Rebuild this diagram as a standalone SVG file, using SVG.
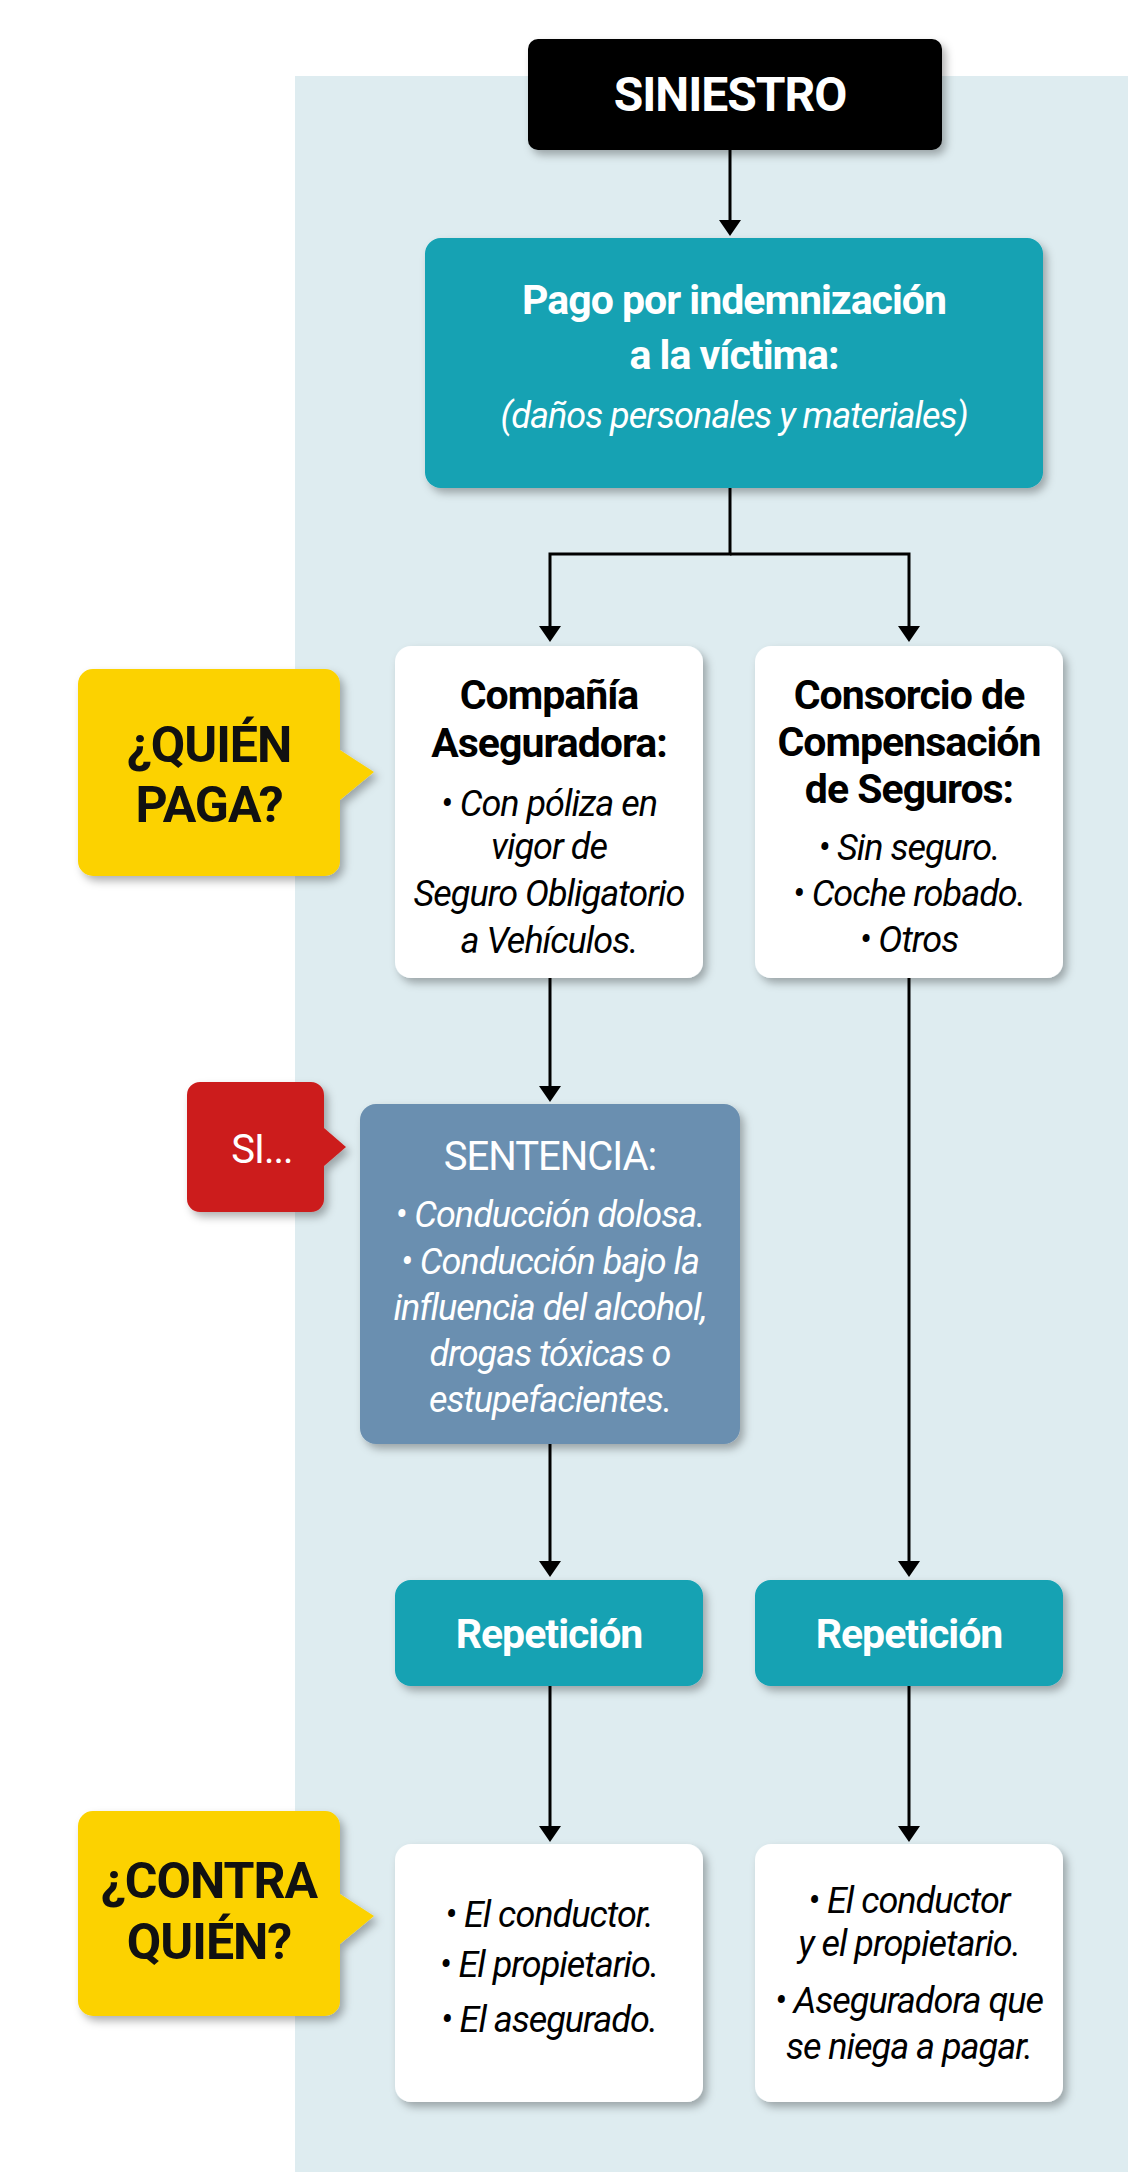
<svg xmlns="http://www.w3.org/2000/svg" width="1128" height="2172" viewBox="0 0 1128 2172">
<defs>
<filter id="sh" x="-10%" y="-10%" width="130%" height="130%"><feDropShadow dx="4" dy="5" stdDeviation="4" flood-color="#000" flood-opacity="0.3"/></filter>
<style>
text{font-family:Roboto,"Liberation Sans",sans-serif;text-anchor:middle;letter-spacing:-1px}
.b{font-weight:bold;font-size:41px}
.i{font-style:italic;font-size:36px}
.w{fill:#fff}
.c{font-weight:bold;font-size:50px;fill:#111}
.ln{stroke:#000;stroke-width:3;fill:none}
</style>
</defs>
<rect width="1128" height="2172" fill="#fff"/>
<rect x="295" y="76" width="833" height="2096" fill="#deecf0"/>
<g id="connectors">
<path class="ln" d="M730,150 V224"/><path d="M730,236 l-11,-16 h22 z"/>
<path class="ln" d="M730,488 V554 H550 V630"/>
<path class="ln" d="M730,554 H909 V630"/>
<path d="M550,642 l-11,-16 h22 z M909,642 l-11,-16 h22 z"/>
<path class="ln" d="M550,978 V1090"/><path d="M550,1102 l-11,-16 h22 z"/>
<path class="ln" d="M550,1444 V1565"/><path d="M550,1577 l-11,-16 h22 z"/>
<path class="ln" d="M909,978 V1565"/><path d="M909,1577 l-11,-16 h22 z"/>
<path class="ln" d="M550,1686 V1830"/><path d="M550,1842 l-11,-16 h22 z"/>
<path class="ln" d="M909,1686 V1830"/><path d="M909,1842 l-11,-16 h22 z"/>
</g>
<g id="siniestro"><rect x="528" y="39" width="414" height="111" rx="10" fill="#000" filter="url(#sh)"/><text x="730" y="111" class="w" style="font-weight:bold;font-size:48px">SINIESTRO</text></g>
<g id="pago"><rect x="425" y="238" width="618" height="250" rx="16" fill="#12a2b3" filter="url(#sh)"/>
<text x="734" y="314" class="b w">Pago por indemnización</text>
<text x="734" y="369" class="b w">a la víctima:</text>
<text x="734" y="428" class="i w">(daños personales y materiales)</text></g>
<g id="quien"><path d="M93,669 H325 a15,15 0 0 1 15,15 V750 L374,772 L340,800 V861 a15,15 0 0 1 -15,15 H93 a15,15 0 0 1 -15,-15 V684 a15,15 0 0 1 15,-15 z" fill="#fcd200" filter="url(#sh)"/>
<text x="209" y="762" class="c">¿QUIÉN</text><text x="209" y="822" class="c">PAGA?</text></g>
<g id="compania"><rect x="395" y="646" width="308" height="332" rx="16" fill="#fff" filter="url(#sh)"/>
<text x="549" y="709" class="b">Compañía</text><text x="549" y="757" class="b">Aseguradora:</text>
<text x="549" y="816" class="i">• Con póliza en</text><text x="549" y="859" class="i">vigor de</text>
<text x="549" y="906" class="i">Seguro Obligatorio</text><text x="549" y="953" class="i">a Vehículos.</text></g>
<g id="consorcio"><rect x="755" y="646" width="308" height="332" rx="16" fill="#fff" filter="url(#sh)"/>
<text x="909" y="709" class="b">Consorcio de</text><text x="909" y="756" class="b">Compensación</text><text x="909" y="803" class="b">de Seguros:</text>
<text x="909" y="860" class="i">• Sin seguro.</text><text x="909" y="906" class="i">• Coche robado.</text><text x="909" y="952" class="i">• Otros</text></g>
<g id="si"><path d="M200,1082 H311 a13,13 0 0 1 13,13 V1128 L346,1147 L324,1166 V1199 a13,13 0 0 1 -13,13 H200 a13,13 0 0 1 -13,-13 V1095 a13,13 0 0 1 13,-13 z" fill="#cc1c1c" filter="url(#sh)"/>
<text x="262" y="1163" class="w" style="font-size:40px">SI...</text></g>
<g id="sentencia"><rect x="360" y="1104" width="380" height="340" rx="16" fill="#6a8fb0" filter="url(#sh)"/>
<text x="550" y="1170" class="w" style="font-size:40px">SENTENCIA:</text>
<text x="550" y="1227" class="i w">• Conducción dolosa.</text><text x="550" y="1274" class="i w">• Conducción bajo la</text>
<text x="550" y="1320" class="i w">influencia del alcohol,</text><text x="550" y="1366" class="i w">drogas tóxicas o</text><text x="550" y="1412" class="i w">estupefacientes.</text></g>
<g id="rep1"><rect x="395" y="1580" width="308" height="106" rx="16" fill="#12a2b3" filter="url(#sh)"/><text x="549" y="1648" class="b w">Repetición</text></g>
<g id="rep2"><rect x="755" y="1580" width="308" height="106" rx="16" fill="#12a2b3" filter="url(#sh)"/><text x="909" y="1648" class="b w">Repetición</text></g>
<g id="contra"><path d="M93,1811 H325 a15,15 0 0 1 15,15 V1894 L374,1916 L340,1944 V2001 a15,15 0 0 1 -15,15 H93 a15,15 0 0 1 -15,-15 V1826 a15,15 0 0 1 15,-15 z" fill="#fcd200" filter="url(#sh)"/>
<text x="209" y="1898" class="c">¿CONTRA</text><text x="209" y="1959" class="c">QUIÉN?</text></g>
<g id="contra1"><rect x="395" y="1844" width="308" height="258" rx="16" fill="#fff" filter="url(#sh)"/>
<text x="549" y="1927" class="i">• El conductor.</text><text x="549" y="1977" class="i">• El propietario.</text><text x="549" y="2032" class="i">• El asegurado.</text></g>
<g id="contra2"><rect x="755" y="1844" width="308" height="258" rx="16" fill="#fff" filter="url(#sh)"/>
<text x="909" y="1913" class="i">• El conductor</text><text x="909" y="1956" class="i">y el propietario.</text>
<text x="909" y="2013" class="i">• Aseguradora que</text><text x="909" y="2059" class="i">se niega a pagar.</text></g>
</svg>
